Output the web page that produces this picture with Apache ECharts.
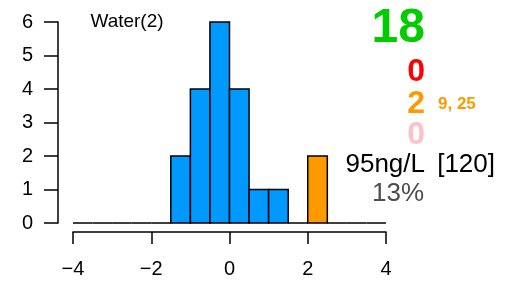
<!DOCTYPE html>
<html>
<head>
<meta charset="utf-8">
<script src="https://cdn.jsdelivr.net/npm/echarts@6/dist/echarts.min.js"></script>
<style>
  html, body { margin: 0; padding: 0; background: #fff; }
  #chart { width: 520px; height: 289px; }
</style>
</head>
<body>
<div id="chart"></div>
<script>
// histogram bins (left edges, width 0.5) and counts
const binStart = [-4, -3.5, -3, -2.5, -2, -1.5, -1, -0.5, 0, 0.5, 1, 1.5, 2, 2.5, 3, 3.5];
const binWidth = 0.5;
const counts   = [0, 0, 0, 0, 0, 2, 4, 6, 4, 1, 1, 0, 2, 0, 0, 0];
const flagged  = [0, 0, 0, 0, 0, 0, 0, 0, 0, 0, 0, 0, 1, 0, 0, 0];
const xTicks = [-4, -2, 0, 2, 4];
const yTicks = [0, 1, 2, 3, 4, 5, 6];

const title = 'Water(2)';
const nGood = '18', nBad = '0', nWarn = '2', nWarnIdx = '9, 25', nPink = '0';
const concText = '95ng/L', refText = '[120]', pctText = '13%';

const FONT = '"Liberation Sans", Arial, sans-serif';
const BLUE = '#0099FF', ORANGE = '#FF9900';

const chart = echarts.init(document.getElementById('chart'));

const data = binStart.map((s, i) => [s, s + binWidth, counts[i], flagged[i]]);

function renderBin(params, api) {
  const p0 = api.coord([api.value(0), 0]);
  const p1 = api.coord([api.value(1), api.value(2)]);
  const h = p0[1] - p1[1];
  return {
    type: 'rect',
    shape: { x: p0[0], y: p1[1], width: p1[0] - p0[0], height: h },
    style: {
      fill: h > 0 ? (api.value(3) ? ORANGE : BLUE) : 'none',
      stroke: '#000',
      lineWidth: 1.5
    }
  };
}

const txt = (x, y, text, size, color, align, weight) => ({
  type: 'text', x: x, y: y,
  style: {
    text: text, fill: color, font: (weight || 'normal') + ' ' + size + 'px ' + FONT,
    textAlign: align, textVerticalAlign: 'middle'
  }
});

chart.setOption({
  animation: false,
  grid: { left: 73, right: 134, top: 22, bottom: 66 },
  xAxis: {
    type: 'value', min: -4, max: 4, interval: 2, offset: 9,
    axisLine: { show: true, onZero: false, lineStyle: { color: '#000', width: 1.5 } },
    axisTick: { show: true, length: 12, lineStyle: { color: '#000', width: 1.5 } },
    axisLabel: { margin: 27, color: '#000', fontSize: 20, fontFamily: FONT,
      formatter: v => xTicks.includes(v) ? String(v).replace('-', '\u2212') : '' },
    splitLine: { show: false }
  },
  yAxis: {
    type: 'value', min: 0, max: 6, interval: 1, offset: 15,
    axisLine: { show: true, onZero: false, lineStyle: { color: '#000', width: 1.5 } },
    axisTick: { show: true, length: 14, lineStyle: { color: '#000', width: 1.5 } },
    axisLabel: { margin: 25, color: '#000', fontSize: 20, fontFamily: FONT,
      formatter: v => yTicks.includes(v) ? String(v) : '' },
    splitLine: { show: false }
  },
  series: [{
    type: 'custom',
    renderItem: renderBin,
    data: data,
    encode: { x: [0, 1], y: 2 }
  }],
  graphic: [
    txt(127, 22, title, 19, '#000', 'center'),
    txt(425, 29, nGood, 48, '#00CC00', 'right', 'bold'),
    txt(425, 72, nBad, 32, '#FF0000', 'right', 'bold'),
    txt(425, 104, nWarn, 32, ORANGE, 'right', 'bold'),
    txt(438, 104, nWarnIdx, 17, ORANGE, 'left', 'bold'),
    txt(425, 135, nPink, 32, '#FFC0CB', 'right', 'bold'),
    txt(425, 165, concText, 26, '#000', 'right'),
    txt(495, 165, refText, 26, '#000', 'right'),
    txt(424, 194, pctText, 26, '#4D4D4D', 'right')
  ]
});
</script>
</body>
</html>
